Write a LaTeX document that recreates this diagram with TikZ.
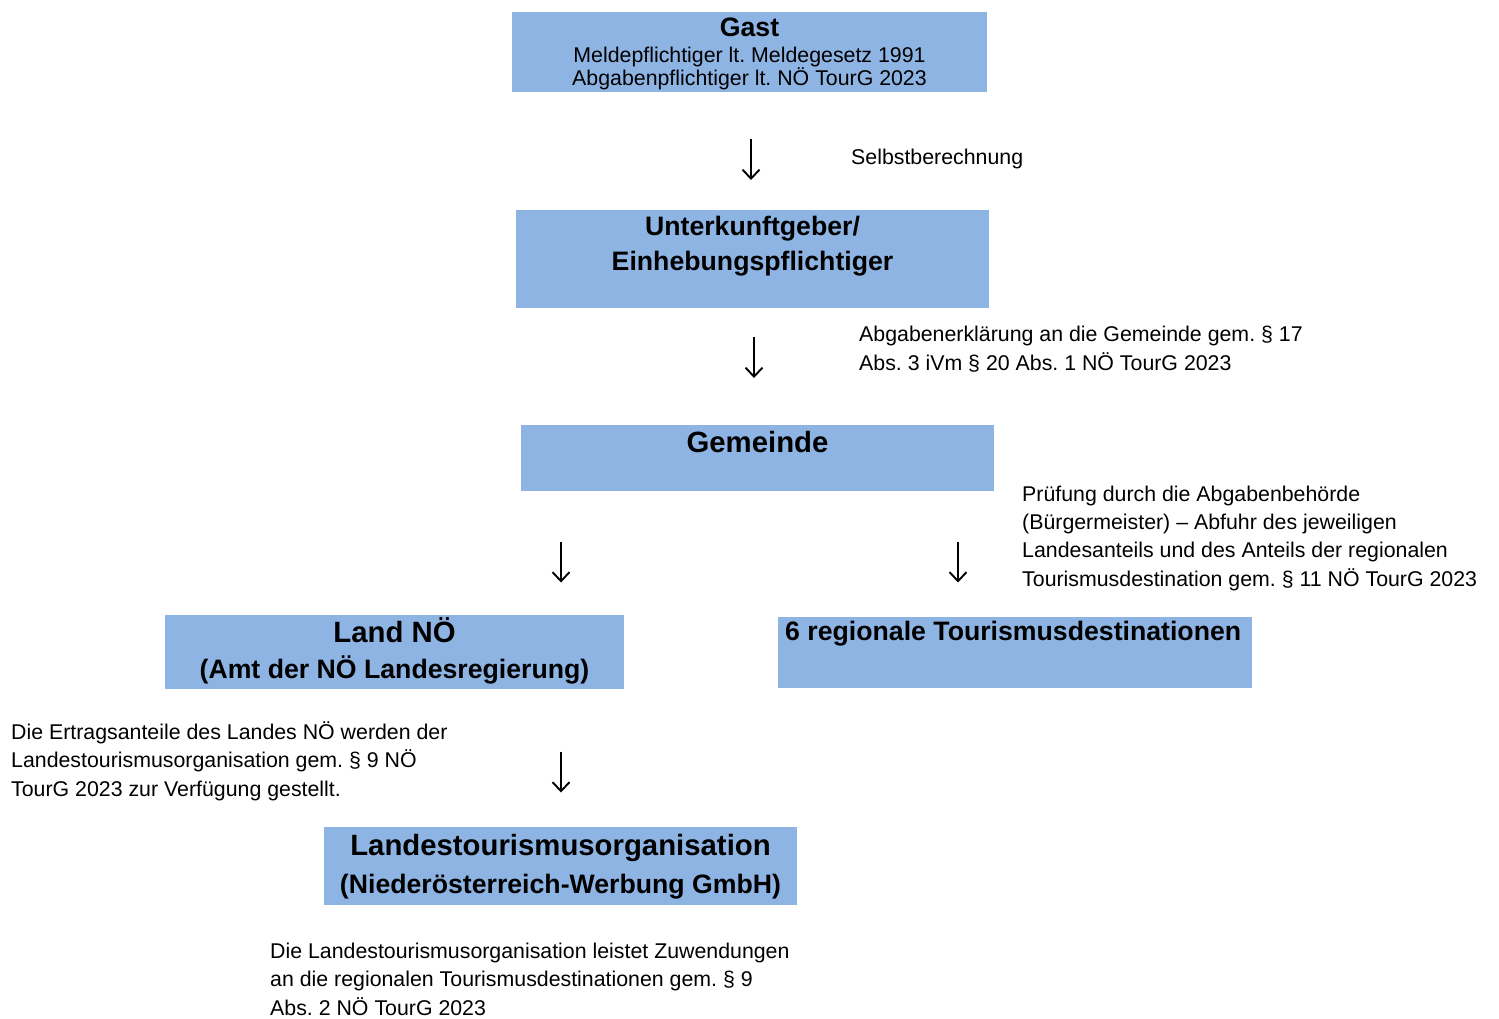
\documentclass[tikz,border=0pt]{standalone}
\usepackage{fontspec}
\setmainfont{Liberation Sans}
\usetikzlibrary{arrows.meta}
\definecolor{boxblue}{HTML}{8EB4E3}
\frenchspacing
\begin{document}
\frenchspacing
\begin{tikzpicture}[x=1pt,y=-1pt,
  box/.style={fill=boxblue, draw=none, inner sep=0pt, outer sep=0pt, anchor=north west},
  tsm/.style={font=\fontsize{26.67}{35}\selectfont\bfseries, align=center, anchor=base, inner sep=0pt},
  tlg/.style={font=\fontsize{29.33}{38}\selectfont\bfseries, align=center, anchor=base, inner sep=0pt},
  boxtext/.style={font=\fontsize{21.33}{20}\selectfont, align=center, anchor=base, inner sep=0pt},
  note/.style={font=\fontsize{21.33}{28.2}\selectfont, align=left, anchor=base west, inner sep=0pt},
  arr/.style={line width=1.9pt, -{Straight Barb[length=9pt,width=17pt,line width=1.9pt]}}
]
\useasboundingbox (0,0) rectangle (1499,1018);

% boxes
\node[box, minimum width=475pt, minimum height=80pt] (gast) at (512,12) {};
\node[box, minimum width=473pt, minimum height=98pt] (unterkunft) at (516,210) {};
\node[box, minimum width=473pt, minimum height=66pt] (gemeinde) at (521,425) {};
\node[box, minimum width=459pt, minimum height=74pt] (land) at (165,615) {};
\node[box, minimum width=474pt, minimum height=71pt] (regional) at (778,617) {};
\node[box, minimum width=473pt, minimum height=78pt] (lto) at (324,827) {};

% box texts (multi-line nodes are placed at the baseline of their last line)
\node[tsm] (gastT) at (749.5,36.7) {Gast};
\node[boxtext] (gastS) at (749.5,85.7) {Meldepflichtiger lt. Meldegesetz 1991\\Abgabenpflichtiger lt. NÖ TourG 2023};
\node[tsm] (unterkunftT) at (752.5,270) {Unterkunftgeber/\\Einhebungspflichtiger};
\node[tlg] (gemeindeT) at (757.5,452.7) {Gemeinde};
\node[tlg] (landT) at (394.5,642.7) {Land NÖ};
\node[tsm] (landS) at (394.5,678.7) {(Amt der NÖ Landesregierung)};
\node[tsm, anchor=base west] (regionalT) at (785,640.7) {6 regionale Tourismusdestinationen};
\node[tlg] (ltoT) at (560.5,855) {Landestourismusorganisation};
\node[tsm] (ltoS) at (560.5,893) {(Niederösterreich-Werbung GmbH)};

% notes
\node[note] (n1) at (851,164) {Selbstberechnung};
\node[note] (n2) at (859,370) {Abgabenerklärung an die Gemeinde gem. § 17\\Abs. 3 iVm § 20 Abs. 1 NÖ TourG 2023};
\node[note] (n3) at (1022,586) {Prüfung durch die Abgabenbehörde\\(Bürgermeister) – Abfuhr des jeweiligen\\Landesanteils und des Anteils der regionalen\\Tourismusdestination gem. § 11 NÖ TourG 2023};
\node[note] (n4) at (11,796) {Die Ertragsanteile des Landes NÖ werden der\\Landestourismusorganisation gem. § 9 NÖ\\TourG 2023 zur Verfügung gestellt.};
\node[note] (n5) at (270,1015) {Die Landestourismusorganisation leistet Zuwendungen\\an die regionalen Tourismusdestinationen gem. § 9\\Abs. 2 NÖ TourG 2023};

% arrows
\coordinate (a1s) at (751,139); \coordinate (a1e) at (751,180);
\coordinate (a2s) at (754,337); \coordinate (a2e) at (754,378);
\coordinate (a3s) at (561,541.5); \coordinate (a3e) at (561,582.5);
\coordinate (a4s) at (958,541.5); \coordinate (a4e) at (958,582.5);
\coordinate (a5s) at (561,751.5); \coordinate (a5e) at (561,792.5);
\draw[arr] (a1s) -- (a1e);
\draw[arr] (a2s) -- (a2e);
\draw[arr] (a3s) -- (a3e);
\draw[arr] (a4s) -- (a4e);
\draw[arr] (a5s) -- (a5e);
\end{tikzpicture}
\end{document}
